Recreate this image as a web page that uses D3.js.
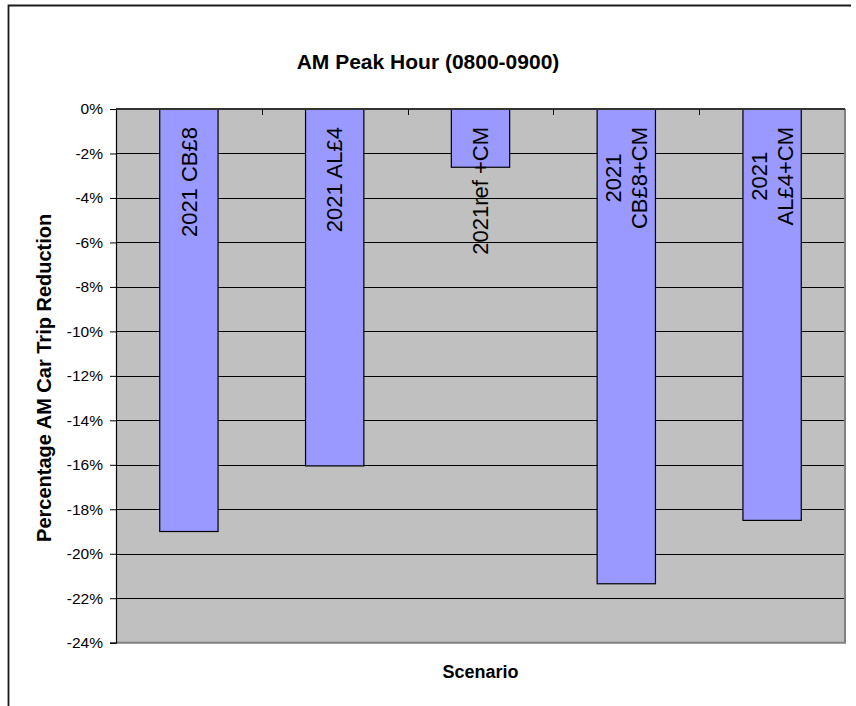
<!DOCTYPE html>
<html>
<head>
<meta charset="utf-8">
<script src="https://cdn.jsdelivr.net/npm/d3@7"></script>
<style>
  html, body { margin: 0; padding: 0; background: #fff; }
  svg { display: block; }
  text { font-family: Arial, "Liberation Sans", sans-serif; fill: #000; }
</style>
</head>
<body>
<svg id="chart" width="856" height="706"></svg>
<script>
// Scenario names (a "\n" splits a label over two lines inside the bar)
const categories = ["2021 CB£8", "2021 AL£4", "2021ref +CM", "2021\nCB£8+CM", "2021\nAL£4+CM"];
// Change in AM peak-hour car trips, as a fraction
const values = [-0.190, -0.1605, -0.0262, -0.2135, -0.185];
// Value axis ticks
const yTicks = [0, -0.02, -0.04, -0.06, -0.08, -0.10, -0.12, -0.14, -0.16, -0.18, -0.20, -0.22, -0.24];

const chartTitle = "AM Peak Hour (0800-0900)";
const yTitle = "Percentage AM Car Trip Reduction";
const xTitle = "Scenario";

const svg = d3.select("#chart");
const plot = { left: 116, right: 845, top: 109, bottom: 642.7 };

const x = d3.scaleBand()
  .domain(categories)
  .range([plot.left, plot.right])
  .paddingInner(0.6)
  .paddingOuter(0.3);

const y = d3.scaleLinear()
  .domain([-0.24, 0])
  .range([plot.bottom, plot.top]);

// Chart frame (top and left edges)
svg.append("path")
  .attr("d", `M8.5,706 V5.5 H851`)
  .attr("fill", "none")
  .attr("stroke", "#1a1a1a")
  .attr("stroke-width", 1.8);

// Plot area background
svg.append("rect")
  .attr("x", plot.left).attr("y", plot.top)
  .attr("width", plot.right - plot.left)
  .attr("height", plot.bottom - plot.top)
  .attr("fill", "#c0c0c0");

// Horizontal gridlines
svg.append("g").selectAll("line")
  .data(yTicks.filter(d => d !== 0 && d !== -0.24))
  .join("line")
  .attr("x1", plot.left).attr("x2", plot.right)
  .attr("y1", d => Math.round(y(d)) + 0.5)
  .attr("y2", d => Math.round(y(d)) + 0.5)
  .attr("stroke", "#000")
  .attr("stroke-width", 1);

// Plot area border (right and bottom)
svg.append("path")
  .attr("d", `M${plot.right},${plot.top} V${plot.bottom} H${plot.left}`)
  .attr("fill", "none")
  .attr("stroke", "#808080")
  .attr("stroke-width", 2);

// Bars
svg.append("g").selectAll("rect")
  .data(categories.map((c, i) => ({ c, v: values[i] })))
  .join("rect")
  .attr("x", d => x(d.c))
  .attr("y", d => y(Math.max(0, d.v)))
  .attr("width", x.bandwidth())
  .attr("height", d => Math.abs(y(d.v) - y(0)))
  .attr("fill", "#9999ff")
  .attr("stroke", "#000")
  .attr("stroke-width", 1.2);

// Value axis
const yAxis = d3.axisLeft(y)
  .tickValues(yTicks)
  .tickSize(6)
  .tickPadding(7)
  .tickFormat(d => `${Math.round(d * 100)}%`);
const yg = svg.append("g")
  .attr("transform", `translate(${plot.left},0)`)
  .call(yAxis);
yg.select(".domain").attr("stroke", "#000").attr("stroke-width", 1.2);
yg.selectAll(".tick line").attr("stroke", "#000");
yg.selectAll(".tick text")
  .style("font-family", "Arial, 'Liberation Sans', sans-serif")
  .style("font-size", "15.5px")
  .attr("fill", "#000");

// Category axis along the zero line, ticks between categories
const boundaries = d3.range(categories.length + 1).map(i => plot.left + i * x.step());
const xg = svg.append("g");
xg.append("line")
  .attr("x1", plot.left).attr("x2", plot.right)
  .attr("y1", y(0)).attr("y2", y(0))
  .attr("stroke", "#333").attr("stroke-width", 2);
xg.selectAll("line.tick")
  .data(boundaries.slice(1, -1))
  .join("line")
  .attr("class", "tick")
  .attr("x1", d => Math.round(d) + 0.5).attr("x2", d => Math.round(d) + 0.5)
  .attr("y1", y(0)).attr("y2", y(0) + 6)
  .attr("stroke", "#000");

// Scenario labels inside the bars, rotated
const labelSize = 22;
const lineGap = 26;
const labelTop = y(0) + 18;
categories.forEach(c => {
  const lines = c.split("\n");
  const cx = x(c) + x.bandwidth() / 2;
  const g = svg.append("g");
  const texts = lines.map((ln, i) => g.append("text")
    .attr("text-anchor", "middle")
    .attr("dy", "0.35em")
    .style("font-size", labelSize + "px")
    .text(ln));
  const maxLen = d3.max(texts, t => t.node().getComputedTextLength());
  const cy = labelTop + maxLen / 2;
  texts.forEach((t, i) => {
    const off = (i - (lines.length - 1) / 2) * lineGap;
    t.attr("transform", `translate(${cx + off},${cy}) rotate(-90)`);
  });
});

// Titles
svg.append("text")
  .attr("x", 428).attr("y", 69)
  .attr("text-anchor", "middle")
  .style("font-size", "21px").style("font-weight", "bold")
  .text(chartTitle);

svg.append("text")
  .attr("transform", `translate(51,${(plot.top + plot.bottom) / 2 + 2}) rotate(-90)`)
  .attr("text-anchor", "middle")
  .style("font-size", "20px").style("font-weight", "bold")
  .text(yTitle);

svg.append("text")
  .attr("x", (plot.left + plot.right) / 2).attr("y", 678)
  .attr("text-anchor", "middle")
  .style("font-size", "18px").style("font-weight", "bold")
  .text(xTitle);
</script>
</body>
</html>
